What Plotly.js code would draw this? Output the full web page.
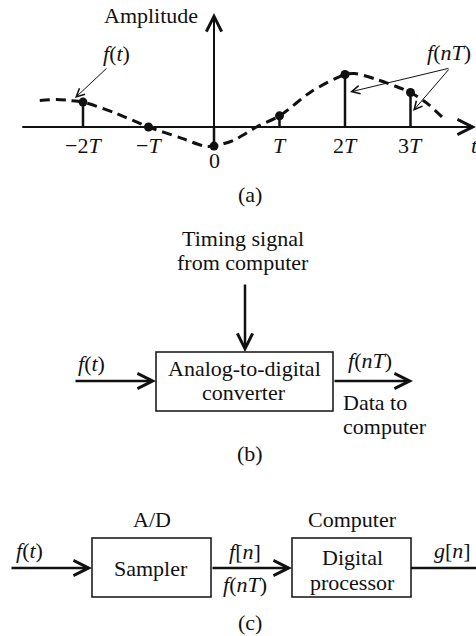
<!DOCTYPE html>
<html><head><meta charset="utf-8">
<script src="https://cdn.plot.ly/plotly-3.0.1.min.js"></script>
<style>html,body{margin:0;padding:0;background:#fff}</style>
</head><body><div id="chart" style="width:476px;height:636px"></div>
<script>
// ---- data (signal in units of T) ----
const sampleT = [-2, -1, 0, 1, 2, 3];
const sampleA = [0.47, 0, -0.36, 0.21, 0.99, 0.65];
const curveT = [-2.66, -2.4, -2.2, -2, -1.5, -1, -0.5, -0.15, 0, 0.3, 0.65, 1, 1.5, 2, 2.15, 2.5, 3, 3.25, 3.48];
const curveA = [0.50, 0.52, 0.50, 0.47, 0.26, 0, -0.21, -0.36, -0.36, -0.25, 0, 0.21, 0.68, 0.99, 1.01, 0.89, 0.65, 0.45, 0.19];
const tickVals = [-2, -1, 1, 2, 3];
const tickText = ['\u22122<i>T</i>', '\u2212<i>T</i>', '<i>T</i>', '2<i>T</i>', '3<i>T</i>'];

const FONT = 'Liberation Serif, Times New Roman, serif';
const INK = '#111111';
const FS = 22;

const stemX = [], stemY = [];
sampleT.forEach((t, i) => { stemX.push(t, t, null); stemY.push(0, sampleA[i], null); });

const traces = [
  {x: curveT, y: curveA, type: 'scatter', mode: 'lines', xaxis: 'x', yaxis: 'y',
   line: {color: INK, width: 3, dash: '10px,6px', shape: 'spline', smoothing: 0.8}, hoverinfo: 'skip'},
  {x: stemX, y: stemY, type: 'scatter', mode: 'lines', xaxis: 'x', yaxis: 'y',
   line: {color: INK, width: 2.5}, hoverinfo: 'skip'},
  {x: sampleT, y: sampleA, type: 'scatter', mode: 'markers', xaxis: 'x', yaxis: 'y',
   marker: {color: INK, size: 9}, hoverinfo: 'skip'},
  {x: [0], y: [0], type: 'scatter', mode: 'markers', xaxis: 'x2', yaxis: 'y2',
   marker: {opacity: 0}, hoverinfo: 'skip'}
];

// text helper (pixel space x2/y2)
function txt(text, x, y, xanchor) {
  return {text: text, x: x, y: y, xref: 'x2', yref: 'y2', showarrow: false,
          xanchor: xanchor || 'center', yanchor: 'middle',
          font: {family: FONT, size: FS, color: INK}};
}
// arrow helper (pixel space): tail (x0,y0) -> tip (x1,y1)
function arr(x0, y0, x1, y1, w, size, head) {
  return {text: '', x: x1, y: y1, ax: x0, ay: y0, xref: 'x2', yref: 'y2', axref: 'x2', ayref: 'y2',
          showarrow: true, arrowhead: head || 5, arrowsize: size || 1.2, arrowwidth: w || 2.5,
          arrowcolor: INK, standoff: 0};
}

const ann = [];
// (a) axes arrows in data space
ann.push({text: '', x: 4.0, y: 0, ax: -2.95, ay: 0, xref: 'x', yref: 'y', axref: 'x', ayref: 'y',
          showarrow: true, arrowhead: 5, arrowsize: 1.5, arrowwidth: 2, arrowcolor: INK, standoff: 0});
ann.push({text: '', x: 0, y: 2.15, ax: 0, ay: -0.36, xref: 'x', yref: 'y', axref: 'x', ayref: 'y',
          showarrow: true, arrowhead: 5, arrowsize: 1.5, arrowwidth: 2, arrowcolor: INK, standoff: 0});
tickVals.forEach((v, i) => {
  ann.push({text: tickText[i], x: v, y: -0.34, xref: 'x', yref: 'y', showarrow: false,
            xanchor: 'center', yanchor: 'middle', font: {family: FONT, size: FS, color: INK}});
});
ann.push({text: '0', x: 0, y: -0.64, xref: 'x', yref: 'y', showarrow: false,
          xanchor: 'center', yanchor: 'middle', font: {family: FONT, size: FS, color: INK}});
ann.push(txt('<i>t</i>', 469, 145, 'left'));
ann.push(txt('Amplitude', 151, 15));
ann.push(txt('<i>f</i>(<i>t</i>)', 116, 53));
ann.push(txt('<i>f</i>(<i>nT</i>)', 425, 52, 'left'));
ann.push(arr(108, 67, 75, 98, 1, 1.6));
ann.push(arr(450, 68, 350, 92, 1, 1.6));
ann.push(arr(450, 68, 413, 111, 1, 1.6));
ann.push(txt('(a)', 250, 194));

// (b)
ann.push(txt('Timing signal', 243, 238));
ann.push(txt('from computer', 243, 262));
ann.push(arr(245, 283, 245, 352));
ann.push(txt('Analog-to-digital', 244, 368));
ann.push(txt('converter', 244, 392));
ann.push(arr(74, 381, 156, 381));
ann.push(txt('<i>f</i>(<i>t</i>)', 91, 363));
ann.push(arr(333, 381, 413, 381));
ann.push(txt('<i>f</i>(<i>nT</i>)', 370, 360));
ann.push(txt('Data to', 341, 402, 'left'));
ann.push(txt('computer', 341, 426, 'left'));
ann.push(txt('(b)', 250, 453));

// (c)
ann.push(txt('A/D', 152, 519));
ann.push(txt('Computer', 352, 519));
ann.push(txt('Sampler', 151, 568));
ann.push(txt('Digital', 352, 557));
ann.push(txt('processor', 352, 582));
ann.push(arr(10, 568, 92, 568));
ann.push(txt('<i>f</i>(<i>t</i>)', 29, 550));
ann.push(arr(211, 568, 292, 568));
ann.push(txt('<i>f</i>[<i>n</i>]', 245, 551));
ann.push(txt('<i>f</i>(<i>nT</i>)', 245, 584));
ann.push(txt('<i>g</i>[<i>n</i>]', 452, 550));
ann.push(txt('(c)', 250, 622));

const shapes = [
  {type: 'rect', xref: 'x2', yref: 'y2', x0: 156, x1: 333, y0: 352, y1: 411, line: {color: INK, width: 1.5}},
  {type: 'rect', xref: 'x2', yref: 'y2', x0: 92, x1: 211, y0: 538, y1: 597, line: {color: INK, width: 1.5}},
  {type: 'rect', xref: 'x2', yref: 'y2', x0: 292, x1: 411, y0: 538, y1: 597, line: {color: INK, width: 1.5}},
  {type: 'line', xref: 'x2', yref: 'y2', x0: 411, x1: 480, y0: 568, y1: 568, line: {color: INK, width: 2.7}}
];

const layout = {
  width: 476, height: 636, margin: {l: 0, r: 0, t: 0, b: 0},
  paper_bgcolor: '#fff', plot_bgcolor: 'rgba(0,0,0,0)', showlegend: false,
  xaxis: {domain: [0, 1], range: [-214 / 65.5, 262 / 65.5], visible: false, fixedrange: true, anchor: 'y'},
  yaxis: {domain: [1 - 200 / 636, 1], range: [-73 / 53, 127 / 53], visible: false, fixedrange: true, anchor: 'x'},
  xaxis2: {domain: [0, 1], range: [0, 476], visible: false, fixedrange: true, anchor: 'y2'},
  yaxis2: {domain: [0, 1], range: [636, 0], visible: false, fixedrange: true, anchor: 'x2'},
  annotations: ann, shapes: shapes
};

Plotly.newPlot('chart', traces, layout, {displayModeBar: false, staticPlot: true});
</script></body></html>
